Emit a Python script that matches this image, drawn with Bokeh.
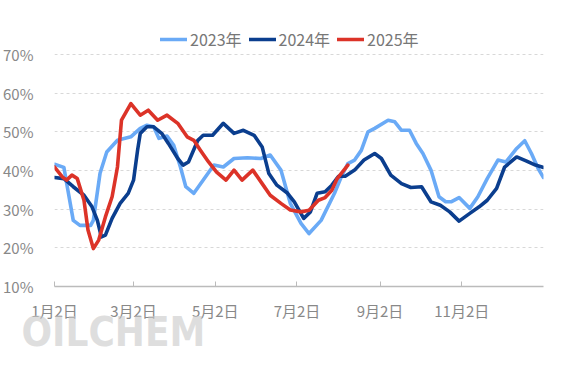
from bokeh.plotting import figure
from bokeh.models import Range1d, FixedTicker, Legend, LegendItem, Label
from bokeh.embed import file_html
from bokeh.resources import INLINE

# ---- data (day offset from 1月2日, percent) ----
days23 = [0, 7, 10, 14, 19, 27, 29, 34, 39, 47, 57, 64, 69, 74, 78, 84, 89, 94, 98, 104,
          119, 126, 134, 144, 154, 161, 169, 176, 184, 190, 199, 209, 214, 219, 224, 229, 234, 239, 249, 254,
          259, 265, 270, 275, 281, 287, 292, 296, 302, 310, 316, 323, 331, 337, 345, 351, 356, 361, 365]
vals23 = [41.6, 40.8, 34.9, 27.1, 25.8, 25.8, 27.1, 39.3, 44.8, 47.8, 48.7, 50.9, 51.7, 51.3, 48.3, 48.9, 46.5, 40.9, 35.8, 34.1,
          41.4, 40.9, 43.1, 43.3, 43.1, 44.0, 40.1, 31.5, 26.3, 23.7, 27.1, 34.1, 38.3, 41.8, 42.7, 45.2, 50.0, 50.9, 53.0, 52.6,
          50.4, 50.4, 47.0, 44.4, 40.1, 33.2, 31.9, 31.9, 33.0, 30.2, 33.2, 37.9, 42.7, 42.2, 45.7, 47.7, 44.4, 40.5, 38.2]

days24 = [0, 7, 14, 22, 28, 32, 35, 38, 43, 49, 55, 59, 62, 64, 69, 74, 80, 85, 92, 96,
          100, 107, 111, 118, 126, 134, 141, 149, 155, 160, 166, 174, 179, 186, 191, 196, 202, 207, 212, 217,
          224, 231, 239, 244, 251, 259, 266, 274, 281, 288, 295, 302, 310, 317, 323, 330, 336, 345, 352, 359, 365]
vals24 = [38.2, 37.9, 35.8, 33.6, 30.6, 27.1, 22.8, 23.3, 27.6, 31.5, 34.1, 37.5, 45.2, 49.6, 51.3, 51.3, 49.6, 47.0, 43.1, 41.4,
          42.2, 47.8, 49.1, 49.1, 52.2, 49.6, 50.4, 49.1, 46.1, 39.2, 36.2, 34.1, 31.9, 27.6, 29.3, 34.1, 34.5, 36.2, 38.5, 38.5,
          40.1, 42.7, 44.4, 43.1, 38.8, 36.6, 35.6, 35.8, 31.9, 31.0, 29.3, 26.9, 28.9, 30.6, 32.3, 35.4, 40.9, 43.5, 42.5, 41.4, 40.8]

days25 = [0, 6, 9, 13, 17, 22, 25, 29, 33, 38, 43, 47, 50, 57, 64, 70, 77, 84, 92, 99,
          104, 109, 115, 121, 128, 134, 140, 148, 155, 161, 169, 176, 184, 190, 197, 202, 207, 211, 219]
vals25 = [40.9, 38.3, 37.5, 38.8, 37.9, 32.3, 24.6, 19.8, 22.0, 28.0, 33.2, 40.9, 53.0, 57.3, 54.3, 55.6, 53.0, 54.3, 52.2, 48.7,
          47.8, 45.2, 42.2, 39.6, 37.5, 40.1, 37.5, 40.1, 36.6, 33.6, 31.5, 29.8, 29.3, 29.7, 32.3, 33.0, 34.9, 37.9, 41.4]

series_names = ["2023年", "2024年", "2025年"]
x_ticks = [0, 59, 120, 181, 243, 304]
x_tick_labels = ["1月2日", "3月2日", "5月2日", "7月2日", "9月2日", "11月2日"]
y_ticks = [10, 20, 30, 40, 50, 60, 70]
y_tick_labels = ["10%", "20%", "30%", "40%", "50%", "60%", "70%"]

colors = ["#6aaaf6", "#0b3e8e", "#dc3328"]
FONT = "Noto Sans CJK SC"

p = figure(width=559, height=376, output_backend="svg", toolbar_location=None,
           x_range=Range1d(0, 365), y_range=Range1d(10, 10 + 266 / 3.867),
           min_border_left=54, min_border_right=16, min_border_top=20, min_border_bottom=90)
p.outline_line_color = None
p.background_fill_color = "white"

renderers = []
for d, v, c in zip([days23, days24, days25], [vals23, vals24, vals25], colors):
    r = p.line(d, v, line_color=c, line_width=3.6, line_join="round", line_cap="round")
    renderers.append(r)

# watermark, placed in the panel below the x axis
wm = Label(x=-33, y=15, x_units="screen", y_units="screen", text="OILCHEM",
           text_font="DejaVu Sans Condensed, Liberation Sans, sans-serif", text_font_size="40px",
           text_font_style="bold", text_color="#c8c8c8", text_alpha=0.6)
p.add_layout(wm, "below")

legend = Legend(items=[LegendItem(label=n, renderers=[r]) for n, r in zip(series_names, renderers)],
                orientation="horizontal", location=(106, 235), padding=0, margin=0,
                spacing=7, label_standoff=3, glyph_width=27, glyph_height=16,
                label_text_font=FONT, label_text_font_size="16px", label_text_color="#777777",
                background_fill_alpha=0, border_line_color=None)
p.add_layout(legend)

# y axis
p.yaxis.ticker = FixedTicker(ticks=y_ticks)
p.yaxis.major_label_overrides = {t: l for t, l in zip(y_ticks, y_tick_labels)}
p.yaxis.axis_line_color = None
p.yaxis.major_tick_line_color = None
p.yaxis.minor_tick_line_color = None
p.yaxis.major_label_standoff = 15
p.yaxis.major_label_text_font = FONT
p.yaxis.major_label_text_font_size = "15px"
p.yaxis.major_label_text_color = "#888888"

# x axis
p.xaxis.ticker = FixedTicker(ticks=x_ticks)
p.xaxis.major_label_overrides = {t: l for t, l in zip(x_ticks, x_tick_labels)}
p.xaxis.axis_line_color = "#bbbbbb"
p.xaxis.axis_line_width = 1.5
p.xaxis.major_tick_line_color = "#bbbbbb"
p.xaxis.major_tick_in = 5
p.xaxis.major_tick_out = 0
p.xaxis.minor_tick_line_color = None
p.xaxis.major_label_standoff = 13
p.xaxis.major_label_text_font = FONT
p.xaxis.major_label_text_font_size = "15px"
p.xaxis.major_label_text_color = "#888888"

# grids
p.xgrid.grid_line_color = None
p.ygrid.grid_line_color = "#d8d8d8"
p.ygrid.grid_line_dash = "3 3"
p.ygrid.grid_line_width = 1

open("out.html", "w").write(file_html(p, INLINE))
